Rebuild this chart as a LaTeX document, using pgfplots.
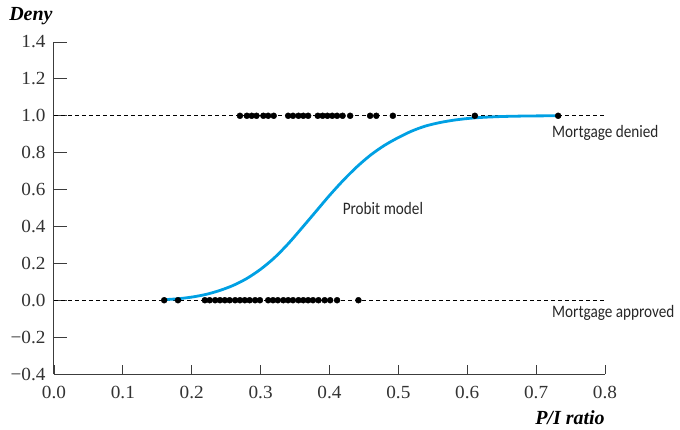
\documentclass[border=0pt]{standalone}
\usepackage{pgfplots}
\pgfplotsset{compat=1.18}
\usepackage{fontspec}
\setmainfont{Liberation Serif}
\newfontfamily\tickfont[FakeStretch=1.04]{Liberation Serif}
\newfontfamily\labfont[FakeStretch=0.87]{Carlito}
\definecolor{probit}{RGB}{0,160,227}
\definecolor{axgray}{RGB}{60,60,60}
\begin{document}
\begin{tikzpicture}
\begin{axis}[
  name=ax,
  scale only axis,
  width=551pt, height=332pt,
  xmin=0, xmax=0.8, ymin=-0.4, ymax=1.4,
  axis x line*=bottom, axis y line*=left,
  axis line style={-, axgray, line width=1pt},
  xtick={0,0.1,...,0.8},
  xticklabels={0.0,0.1,0.2,0.3,0.4,0.5,0.6,0.7,0.8},
  ytick={-0.4,-0.2,0,0.2,0.4,0.6,0.8,1.0,1.2,1.4},
  yticklabels={−0.4,−0.2,0.0,0.2,0.4,0.6,0.8,1.0,1.2,1.4},
  tick align=inside,
  xtick style={axgray, line width=0.9pt, /pgfplots/major tick length=9pt},
  ytick style={axgray, line width=0.9pt, /pgfplots/major tick length=13pt},
  tick label style={font=\tickfont\fontsize{18.5}{18.5}\selectfont, text=black!80},
  xticklabel style={yshift=-9pt},
  yticklabel style={xshift=-5pt},
  xlabel={\textbf{\textit{P/I ratio}}},
  xlabel style={font=\fontsize{20}{20}\selectfont, at={(rel axis cs:0,0)}, anchor=center, xshift=516pt, yshift=-44pt},
  ylabel={\textbf{\textit{Deny}}},
  ylabel style={font=\fontsize{20}{20}\selectfont, rotate=-90, at={(rel axis cs:0,1)}, anchor=center, xshift=-23pt, yshift=26pt},
  clip=false,
]
\addplot[black, line width=0.7pt, dash pattern=on 4pt off 3pt] coordinates {(0,1) (0.8,1)};
\addplot[black, line width=0.7pt, dash pattern=on 4pt off 3pt] coordinates {(0,0) (0.8,0)};
\addplot[probit, line width=2.8pt, smooth, tension=0.5] coordinates {
(0.160,0.003) (0.180,0.008) (0.200,0.017) (0.220,0.031) (0.240,0.052) (0.260,0.080)
(0.280,0.118) (0.300,0.168) (0.320,0.230) (0.340,0.306) (0.360,0.392) (0.380,0.480)
(0.400,0.568) (0.420,0.650) (0.440,0.724) (0.460,0.788) (0.480,0.840) (0.500,0.882)
(0.520,0.918) (0.540,0.945) (0.560,0.963) (0.580,0.976) (0.600,0.985) (0.620,0.991)
(0.650,0.996) (0.690,0.999) (0.732,1.0)};
\addplot[only marks, mark=*, mark size=3pt, black] coordinates {
(0.270,1)(0.280,1)(0.287,1)(0.294,1)(0.304,1)(0.311,1)(0.319,1)(0.340,1)(0.347,1)(0.355,1)
(0.362,1)(0.369,1)(0.383,1)(0.390,1)(0.397,1)(0.404,1)(0.411,1)(0.419,1)(0.430,1)(0.459,1)
(0.468,1)(0.492,1)(0.611,1)(0.732,1)};
\addplot[only marks, mark=*, mark size=3pt, black] coordinates {
(0.160,0)(0.180,0)(0.219,0)(0.226,0)(0.234,0)(0.241,0)(0.248,0)(0.255,0)(0.263,0)(0.270,0)
(0.277,0)(0.284,0)(0.292,0)(0.299,0)(0.311,0)(0.318,0)(0.325,0)(0.333,0)(0.340,0)(0.347,0)
(0.355,0)(0.362,0)(0.369,0)(0.376,0)(0.384,0)(0.393,0)(0.401,0)(0.411,0)(0.442,0)};
\node[anchor=west, inner sep=0pt, font=\labfont\fontsize{17.5}{17.5}\selectfont, text=black!85] at (axis cs:0.723,0.905) {Mortgage denied};
\node[anchor=west, inner sep=0pt, font=\labfont\fontsize{17.5}{17.5}\selectfont, text=black!85] at (axis cs:0.723,-0.071) {Mortgage approved};
\node[anchor=west, inner sep=0pt, font=\labfont\fontsize{17.5}{17.5}\selectfont, text=black!85] at (axis cs:0.419,0.495) {Probit model};
\end{axis}
\path (ax.south west) ++(-54pt,-55pt) rectangle ++(680pt,429pt);
\end{tikzpicture}
\end{document}
